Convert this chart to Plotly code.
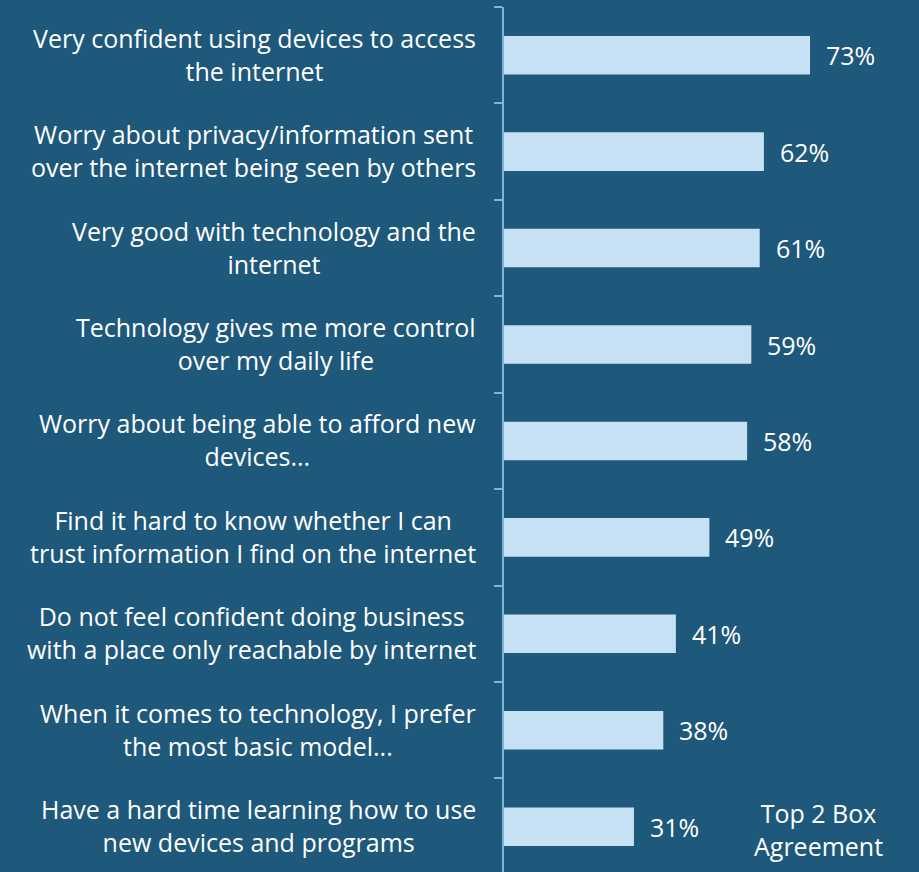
import plotly.graph_objects as go

categories = [
    "Very confident using devices to access<br>the internet",
    "Worry about privacy/information sent<br>over the internet being seen by others",
    "Very good with technology and the<br>internet",
    "Technology gives me more control<br>over my daily life",
    "Worry about being able to afford new<br>devices...",
    "Find it hard to know whether I can<br>trust information I find on the internet",
    "Do not feel confident doing business<br>with a place only reachable by internet",
    "When it comes to technology, I prefer<br>the most basic model...",
    "Have a hard time learning how to use<br>new devices and programs",
]
values = [73, 62, 61, 59, 58, 49, 41, 38, 31]
value_labels = [f"{v}%" for v in values]

BG = "#1E587B"
BAR = "#C6E1F3"
AXIS = "#7DB5DE"
FONT = "Open Sans"
SIZE = 25

fig = go.Figure()
fig.add_trace(go.Bar(
    x=values, y=categories, orientation="h",
    marker=dict(color=BAR, line=dict(width=0)),
    width=0.4,
    hoverinfo="skip",
))

# category labels: right-aligned block, centred lines
for cat in categories:
    fig.add_annotation(
        x=0, xref="paper", y=cat, yref="y",
        text=cat, showarrow=False,
        xanchor="right", align="center", xshift=-26, yshift=1,
        font=dict(color="white", size=SIZE, family=FONT),
    )

# value labels
for cat, v, lab in zip(categories, values, value_labels):
    fig.add_annotation(
        x=v, xref="x", y=cat, yref="y",
        text=lab, showarrow=False,
        xanchor="left", xshift=14,
        font=dict(color="white", size=SIZE, family=FONT),
    )

fig.add_annotation(
    x=(818 - 504) / (919 - 504), xref="paper",
    y=0.049, yref="paper",
    text="Top 2 Box<br>Agreement", showarrow=False,
    xanchor="center", yanchor="middle",
    font=dict(color="white", size=SIZE, family=FONT),
)

fig.update_layout(
    width=919, height=872,
    paper_bgcolor=BG, plot_bgcolor=BG,
    margin=dict(l=504, r=0, t=7, b=0),
    showlegend=False,
)
fig.update_xaxes(range=[0, 99], visible=False)
fig.update_yaxes(
    autorange=False, range=[8.47, -0.5],
    showticklabels=False, tickson="boundaries",
    ticks="outside", ticklen=8, tickwidth=2, tickcolor=AXIS,
    showline=True, linecolor=AXIS, linewidth=2,
    showgrid=False, zeroline=False,
)

fig.write_html("out.html", config={"displayModeBar": False},
               post_script="document.body.style.margin='0';")
